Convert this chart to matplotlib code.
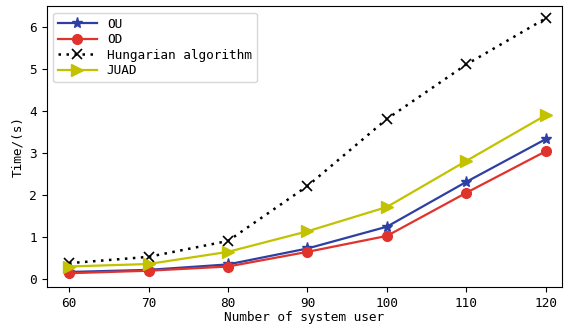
import matplotlib

matplotlib.use("Agg")
import matplotlib.pyplot as plt

users = [60, 70, 80, 90, 100, 110, 120]
ou_time = [0.16, 0.21, 0.34, 0.72, 1.24, 2.31, 3.33]
od_time = [0.13, 0.19, 0.29, 0.64, 1.02, 2.05, 3.04]
hungarian_time = [0.37, 0.52, 0.90, 2.21, 3.81, 5.11, 6.21]
juad_time = [0.29, 0.35, 0.64, 1.13, 1.71, 2.81, 3.90]

plt.rcParams["font.family"] = ["DejaVu Sans Mono"]
plt.rcParams["font.size"] = 9.2

fig = plt.figure(figsize=(5.64, 3.24), dpi=100)
ax = fig.add_axes([0.083, 0.114, 0.913, 0.867])

ax.plot(users, ou_time, color="#2e3fa3", marker="*", markersize=8, linewidth=1.6, label="OU")
ax.plot(users, od_time, color="#e0332b", marker="o", markersize=7, linewidth=1.6, label="OD")
ax.plot(users, hungarian_time, color="black", marker="x", markersize=7, markeredgewidth=1.2,
        linewidth=1.8, linestyle=(0, (1, 2.2)), label="Hungarian algorithm")
ax.plot(users, juad_time, color="#c2c200", marker=">", markersize=8, linewidth=1.6, label="JUAD")

ax.set_xlim(57.2, 122)
ax.set_ylim(-0.2, 6.5)
ax.set_xticks(users)
ax.set_yticks(range(7))
ax.set_xlabel("Number of system user", labelpad=1)
ax.set_ylabel("Time/(s)")
ax.legend(loc="upper left", handlelength=3, borderpad=0.4, labelspacing=0.2)

fig.savefig("out.png", dpi=100)
